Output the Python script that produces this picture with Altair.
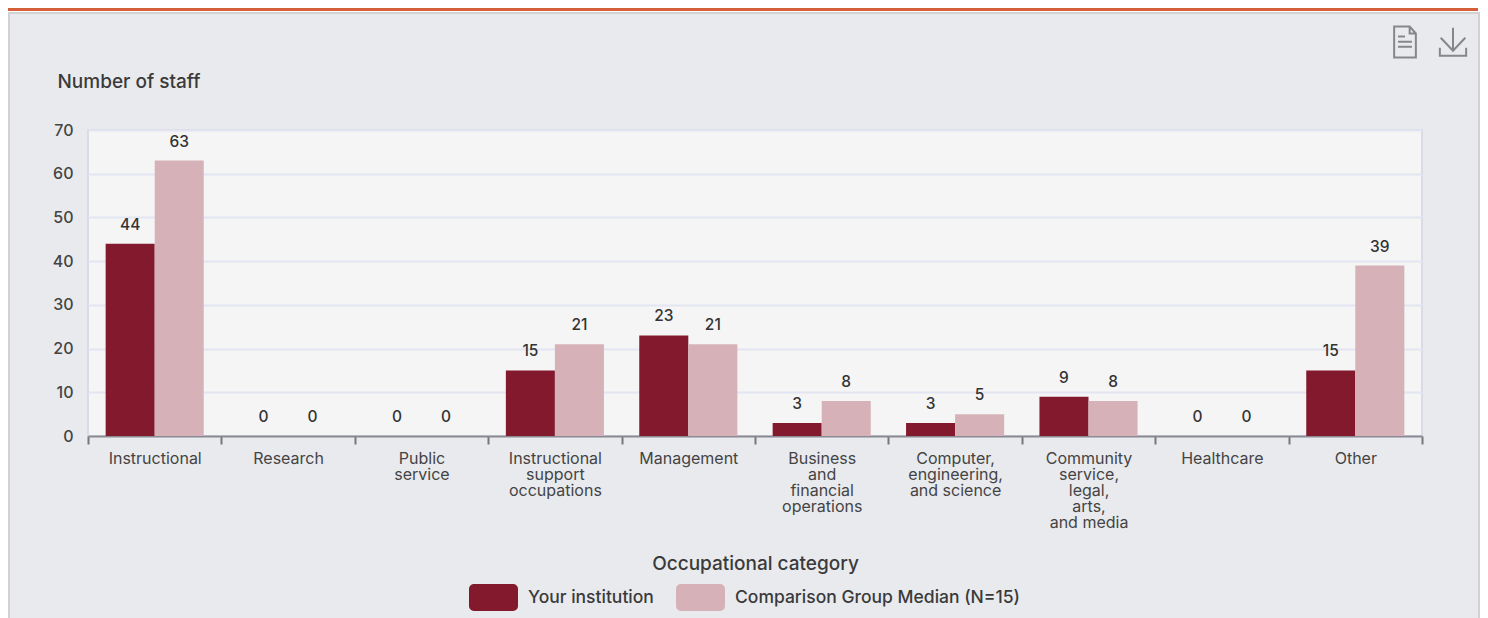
import altair as alt
import pandas as pd

categories = ["Instructional", "Research", "Public|service", "Instructional|support|occupations",
              "Management", "Business|and|financial|operations", "Computer,|engineering,|and science",
              "Community|service,|legal,|arts,|and media", "Healthcare", "Other"]
your_institution = [44, 0, 0, 15, 23, 3, 3, 9, 0, 15]
comparison_median = [63, 0, 0, 21, 21, 8, 5, 8, 0, 39]
series_names = ["Your institution", "Comparison Group Median (N=15)"]
series_colors = ["#83192c", "#d6b2b8"]
y_ticks = [0, 10, 20, 30, 40, 50, 60, 70]

FONT = "Inter"
W, H = 1334, 306
PAD = {"left": 80, "top": 122, "right": 58, "bottom": 182}

rows = []
for c, a, b in zip(categories, your_institution, comparison_median):
    rows.append({"category": c, "series": series_names[0], "value": a})
    rows.append({"category": c, "series": series_names[1], "value": b})
df = pd.DataFrame(rows)

x_enc = alt.X(
    "category:N", sort=categories, scale=alt.Scale(paddingInner=0, paddingOuter=0),
    axis=alt.Axis(
        title="Occupational category", titleFont=FONT, titleFontSize=19, titleFontWeight=500,
        titleColor="#3a3a3a", titleY=127, titleX=W / 2, titleAlign="center", titleBaseline="middle",
        labelFont=FONT, labelFontSize=16, labelFontWeight=400, labelColor="#444444", labelAngle=0, labelAlign="center",
        labelBaseline="top", labelPadding=6, labelLineHeight=16, labelExpr="split(datum.label, '|')",
        labelOverlap=False, labelLimit=200, tickBand="extent", tickSize=8, tickColor="#777777", tickWidth=2,
        domainColor="#8a8a92", domainWidth=2, grid=False,
    ),
)
y_enc = alt.Y(
    "value:Q", scale=alt.Scale(domain=[0, 70], nice=False),
    axis=alt.Axis(
        title="Number of staff", titleFont=FONT, titleFontSize=19, titleFontWeight=500, titleColor="#3a3a3a",
        titleAngle=0, titleAlign="left", titleBaseline="middle", titleX=-31, titleY=-49,
        values=y_ticks, labelFont=FONT, labelFontSize=16, labelFontWeight=500, labelColor="#444444", labelPadding=15,
        ticks=False, domain=False, grid=True, gridColor="#e3e6f2", gridWidth=2,
    ),
)
x_off = alt.XOffset("series:N", sort=series_names, scale=alt.Scale(paddingInner=0, paddingOuter=0.36))

rounded = "M-0.8,-0.55 H0.8 A0.2,0.2 0 0 1 1,-0.35 V0.35 A0.2,0.2 0 0 1 0.8,0.55 H-0.8 A0.2,0.2 0 0 1 -1,0.35 V-0.35 A0.2,0.2 0 0 1 -0.8,-0.55 Z"

bars = alt.Chart(df).mark_bar(stroke=None).encode(
    x=x_enc, y=y_enc, xOffset=x_off,
    color=alt.Color("series:N", sort=series_names,
                    scale=alt.Scale(domain=series_names, range=series_colors),
                    legend=alt.Legend(
                        title=None, orient="none", legendX=381, legendY=443, direction="horizontal",
                        symbolType=rounded, symbolSize=2401, symbolStrokeWidth=0,
                        labelFont=FONT, labelFontSize=17.5, labelFontWeight=500, labelColor="#3a3a3a", labelOffset=10,
                        columnPadding=22, padding=0, labelLimit=400)),
)
labels = alt.Chart(df).mark_text(font=FONT, fontSize=15.5, fontWeight=500, color="#333333", baseline="bottom", dy=-11).encode(
    x=alt.X("category:N", sort=categories), y=alt.Y("value:Q"), xOffset=x_off, text="value:Q",
)

blank = alt.Data(values=[{}])
def box(x0, x1, y0, y1, color):
    return alt.Chart(blank).mark_rect(color=color).encode(
        x=alt.value(x0), x2=alt.value(x1), y=alt.value(y0), y2=alt.value(y1))

top_white = box(-80, 1392, -122, -118, "#ffffff")
top_bar = box(-80, 1390, -122, -119, "#d4603a")
border_top = box(-80, 1392, -118, -116, "#d2d2d2")
border_l = box(-80, -78, -118, 488, "#d2d2d2")
border_r = box(1390, 1392, -118, 488, "#d2d2d2")

doc_path = "M-0.7,-1 H0.3 L0.7,-0.55 V1 H-0.7 Z M0.3,-1 V-0.55 H0.7 M-0.45,-0.35 H0 M-0.45,-0.02 H0.45 M-0.45,0.3 H0.45"
down_path = "M0,-1 V0.62 M-0.87,-0.3 L0,0.62 L0.87,-0.3 M-0.93,0.4 V0.98 H0.93 V0.4"
doc = alt.Chart(blank).mark_point(shape=doc_path, size=961, filled=False, stroke="#85878a", strokeWidth=2, opacity=1).encode(
    x=alt.value(1405 - 88), y=alt.value(42 - 130))
down = alt.Chart(blank).mark_point(shape=down_path, size=800, filled=False, stroke="#85878a", strokeWidth=2, opacity=1).encode(
    x=alt.value(1453 - 88), y=alt.value(42 - 130))

chart = alt.layer(bars, labels, top_white, top_bar, border_top, border_l, border_r, doc, down).properties(
    width=W, height=H, padding=PAD, background="#e9eaee",
    autosize=alt.AutoSizeParams(type="none"),
).configure_view(fill="#f5f5f5", stroke="#d9dbe6", strokeWidth=2).resolve_scale(x="shared")

chart.save("out.html", embed_options={"renderer": "svg", "actions": False})
